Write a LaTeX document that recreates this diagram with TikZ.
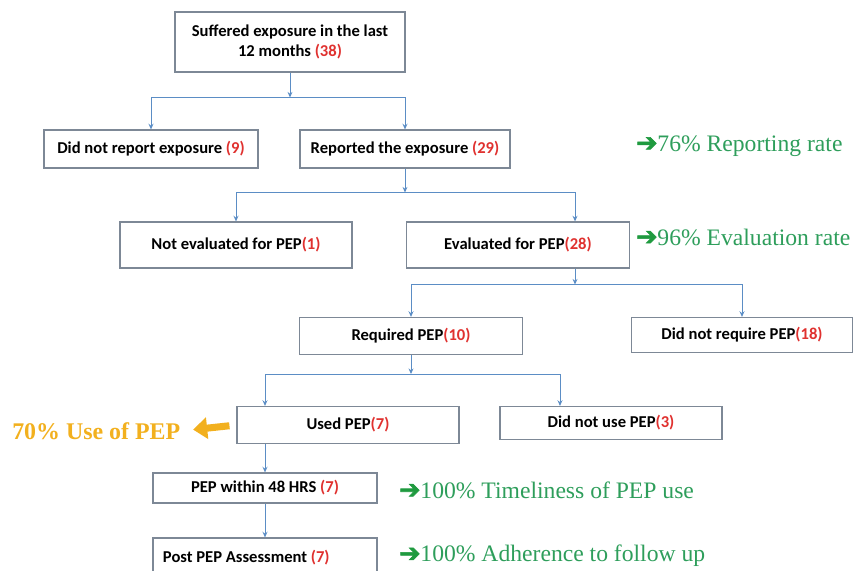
\documentclass[tikz,border=0pt]{standalone}
\usepackage{fontspec}
\setmainfont{Liberation Serif}
\newfontfamily\boxfont{Carlito}
\newfontfamily\symfont[FakeBold=2.5]{DejaVu Sans}
\usetikzlibrary{arrows.meta, positioning, calc}
\definecolor{boxstroke}{HTML}{7D8896}
\definecolor{linkblue}{HTML}{5B8DC5}
\definecolor{cntred}{HTML}{E0312F}
\definecolor{rategreen}{HTML}{2E9E5B}
\definecolor{arrowgreen}{HTML}{1F9A3F}
\definecolor{useorange}{HTML}{F2B01E}
\newcommand{\cnt}[1]{\textcolor{cntred}{(#1)}}
\newcommand{\rate}[1]{{\symfont\fontsize{18}{18}\selectfont\textcolor{arrowgreen}{➔}}#1}

\begin{document}
\begin{tikzpicture}[
    x=0.025cm, y=-0.025cm,
    every node/.style={font=\boxfont\bfseries\fontsize{11.8}{14}\selectfont},
    box/.style={draw=boxstroke, line width=0.8pt, fill=white, align=center, inner sep=2pt},
    wh/.style 2 args={minimum width=#1*0.025cm, minimum height=#2*0.025cm},
    link/.style={draw=linkblue, line width=0.7pt, -{Stealth[length=4pt, width=3.5pt]}},
    ratelbl/.style={anchor=west, inner sep=0pt, text=rategreen, font=\rmfamily\fontsize{16.8}{18}\selectfont},
    fatarr/.style={draw=useorange, line width=5pt, -{Triangle[length=10pt, width=15pt]}}
]
\useasboundingbox (0,0) rectangle (856,571);

% boxes
\node[box, wh={230}{60}] (exp) at (290,42) {Suffered exposure in the last\\12 months \cnt{38}};
\node[box, wh={214}{38}] (norep) at (151,149) {Did not report exposure \cnt{9}};
\node[box, wh={210}{38}] (rep) at (405,149) {Reported the exposure \cnt{29}};
\node[box, wh={232}{46}] (noeval) at (236,245) {Not evaluated for PEP\cnt{1}};
\node[box, wh={223}{46}] (eval) at (518,245) {Evaluated for PEP\cnt{28}};
\node[box, wh={223}{37}] (req) at (411,336) {Required PEP\cnt{10}};
\node[box, wh={221}{35}] (noreq) at (742,335) {Did not require PEP\cnt{18}};
\node[box, wh={222}{37}] (used) at (348,425) {Used PEP\cnt{7}};
\node[box, wh={222}{33}] (nouse) at (611,423) {Did not use PEP\cnt{3}};
\node[box, wh={224}{30}] (pep48) at (265,488) {PEP within 48 HRS \cnt{7}};
\node[box, wh={224}{40}, text width=5.1cm, align=flush left] (post) at (265,558) {Post PEP Assessment \cnt{7}};

% connectors
\draw[link] (exp.south) -- ++(0,25) coordinate (j1);
\draw[link] (j1) -| (norep.north);
\draw[link] (j1) -| (rep.north);
\draw[link] (rep.south) -- ++(0,24) coordinate (j2);
\draw[link] (j2) -| (noeval.north);
\draw[link] (j2) -| ([xshift=1.425cm]eval.north);
\draw[link] ([xshift=1.425cm]eval.south) -- ++(0,16) coordinate (j3);
\draw[link] (j3) -| (req.north);
\draw[link] (j3) -| (noreq.north);
\draw[link] (req.south) -- ++(0,19) coordinate (j4);
\draw[link] (j4) -| (used.north -| pep48.north);
\draw[link] (j4) -| ([xshift=-1.275cm]nouse.north);
\draw[link] (used.south -| pep48.north) -- (pep48.north);
\draw[link] (pep48.south) -- (post.north);

% rates
\node[ratelbl] (rrep) at (636,146) {\rate{76\% Reporting rate}};
\node[ratelbl] (reval) at (636,237) {\rate{96\% Evaluation rate}};
\node[ratelbl] (rtime) at (399,490) {\rate{100\% Timeliness of PEP use}};
\node[ratelbl] (radh) at (399,556) {\rate{100\% Adherence to follow up}};
\node[anchor=west, inner sep=0pt, text=useorange, font=\rmfamily\bfseries\fontsize{17}{19}\selectfont] (useof) at (12,431) {70\% Use of PEP};
\draw[fatarr, shorten <=5pt, shorten >=9pt] (used.west) -- (useof.east);
\end{tikzpicture}
\end{document}
